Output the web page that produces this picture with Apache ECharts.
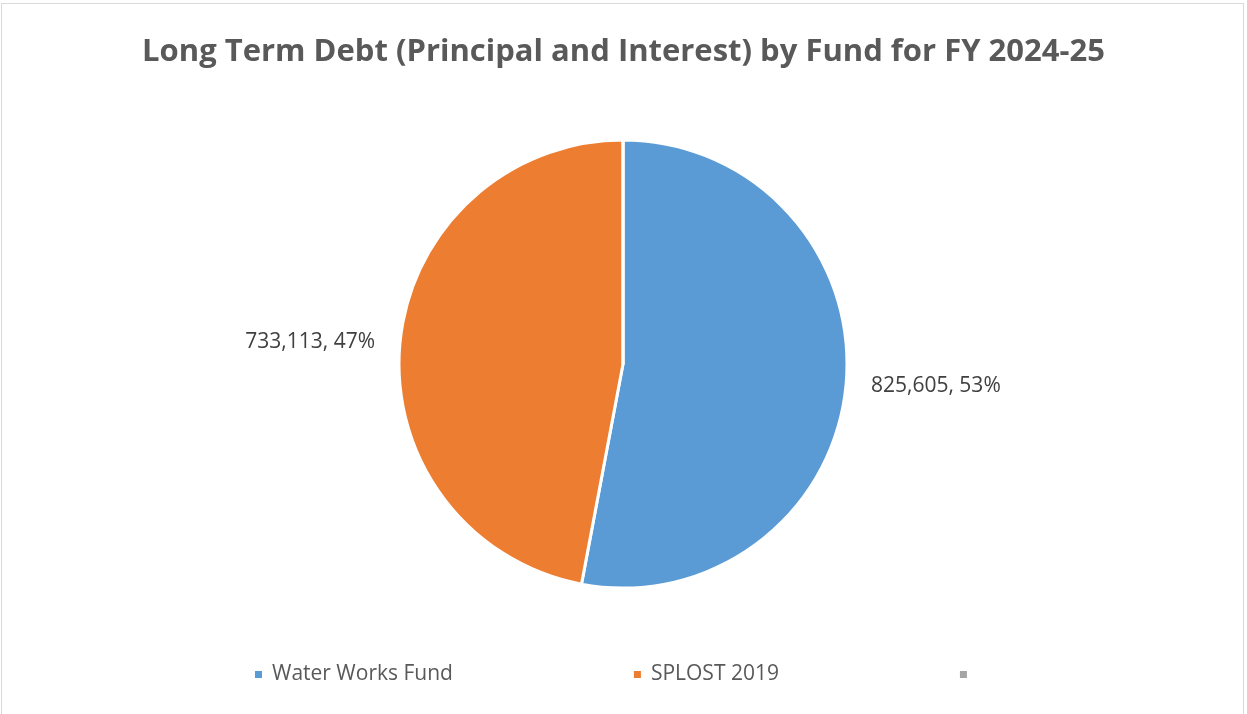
<!DOCTYPE html>
<html>
<head>
<meta charset="utf-8">
<script src="https://cdn.jsdelivr.net/npm/echarts@6/dist/echarts.min.js"></script>
<style>
  html, body { margin: 0; padding: 0; background: #fff; }
  #frame { position: absolute; left: 1px; top: 3px; width: 1243px; height: 720px; border: 1px solid #d9d9d9; box-sizing: border-box; }
  #chart { position: absolute; left: 0; top: 0; width: 1247px; height: 714px; }
</style>
</head>
<body>
<div id="frame"></div>
<div id="chart"></div>
<script>
// Debt service by fund, FY 2024-25
const titleText = 'Long Term Debt (Principal and Interest) by Fund for FY 2024-25';
const funds = ['Water Works Fund', 'SPLOST 2019', ' '];
const amounts = [825605, 733113, 0];
const colors = ['#5b9bd5', '#ed7d31', '#a5a5a5'];

const chart = echarts.init(document.getElementById('chart'), null, { renderer: 'canvas' });

const data = funds.map((name, i) => ({
  name: name,
  value: amounts[i],
  itemStyle: { color: colors[i] },
  label: { show: amounts[i] > 0 }
}));

chart.setOption({
  animation: false,
  title: {
    text: titleText,
    left: 'center',
    top: 32,
    textStyle: { fontFamily: 'Open Sans', fontWeight: 'bold', fontSize: 31, color: '#595959' }
  },
  legend: {
    data: funds,
    bottom: 24,
    left: 248,
    icon: 'rect',
    itemWidth: 9,
    itemHeight: 9,
    itemGap: 179,
    textStyle: { fontFamily: 'Open Sans', fontSize: 21, color: '#595959', padding: [0, 0, 0, 4] }
  },
  series: [{
    type: 'pie',
    center: [623, 364],
    radius: [0, 224],
    startAngle: 90,
    clockwise: true,
    avoidLabelOverlap: false,
    itemStyle: { borderColor: '#ffffff', borderWidth: 3 },
    label: {
      show: true,
      position: 'outside',
      fontFamily: 'Open Sans',
      fontSize: 21,
      color: '#404040',
      formatter: p => p.value.toLocaleString('en-US') + ', ' + Math.round(p.percent) + '%'
    },
    labelLine: { show: false, length: 8, length2: 12 },
    emphasis: { disabled: true },
    data: data
  }]
});
</script>
</body>
</html>
